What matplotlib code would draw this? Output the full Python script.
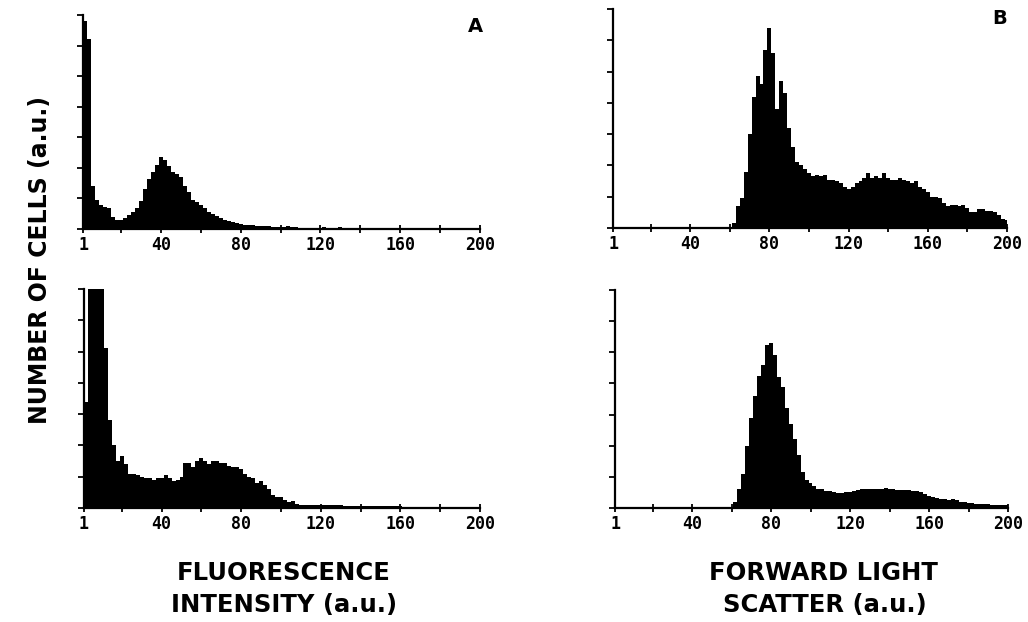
import matplotlib.pyplot as plt
import numpy as np

# histogram bins: 2 channels wide, channel 1 .. 201
edges = np.arange(1, 203, 2)

# fluorescence, upper panel (A)
fl_top = [6.8, 6.2, 1.4, 0.95, 0.8, 0.72, 0.68, 0.4, 0.3, 0.3,
          0.35, 0.45, 0.55, 0.68, 0.9, 1.3, 1.65, 1.85, 2.1, 2.35,
          2.25, 2.05, 1.85, 1.8, 1.7, 1.4, 1.2, 0.95, 0.88, 0.8,
          0.68, 0.57, 0.5, 0.42, 0.36, 0.3, 0.25, 0.22, 0.2, 0.17,
          0.14, 0.12, 0.12, 0.11, 0.1, 0.1, 0.09, 0.08, 0.07, 0.06,
          0.08, 0.1, 0.08, 0.06, 0.04, 0.04, 0.04, 0.04, 0.04, 0.04,
          0.07, 0.04, 0.03, 0.03, 0.05, 0.03, 0.025, 0.025, 0.02, 0.02,
          0.02, 0.02, 0.02, 0.02, 0.02, 0.02, 0.02, 0.02, 0.02, 0.02,
          0.02, 0.02, 0.02, 0.02, 0.02, 0.02, 0.02, 0.02, 0.02, 0.02,
          0.02, 0.02, 0.02, 0.02, 0.02, 0.02, 0.02, 0.02, 0.02, 0.02]

# fluorescence, lower panel
fl_bot = [3.4, 7.0, 7.0, 7.0, 7.0, 5.1, 2.8, 2.0, 1.5, 1.65,
          1.4, 1.1, 1.1, 1.05, 1.0, 0.95, 0.95, 0.9, 0.95, 0.95,
          1.05, 0.95, 0.85, 0.9, 1.0, 1.45, 1.45, 1.3, 1.5, 1.6,
          1.5, 1.4, 1.5, 1.5, 1.45, 1.45, 1.35, 1.3, 1.3, 1.25,
          1.1, 1.0, 0.95, 0.8, 0.85, 0.75, 0.6, 0.42, 0.35, 0.35,
          0.25, 0.2, 0.22, 0.12, 0.1, 0.1, 0.1, 0.1, 0.1, 0.1,
          0.08, 0.08, 0.08, 0.08, 0.08, 0.06, 0.06, 0.06, 0.06, 0.06,
          0.05, 0.05, 0.05, 0.05, 0.05, 0.05, 0.05, 0.05, 0.05, 0.05,
          0.02, 0.02, 0.02, 0.02, 0.02, 0.015, 0.015, 0.015, 0.015, 0.015,
          0.015, 0.015, 0.015, 0.015, 0.015, 0.015, 0.015, 0.015, 0.015, 0.015]

# forward light scatter, upper panel (B)
fs_top = [0.0] * 30 + [
          0.15, 0.7, 0.95, 1.8, 3.0, 4.2, 4.85, 4.6, 5.7, 6.4,
          5.6, 3.8, 4.7, 4.3, 3.2, 2.6, 2.1, 2.0, 1.9, 1.75,
          1.65, 1.7, 1.65, 1.7, 1.55, 1.55, 1.5, 1.45, 1.3, 1.25,
          1.3, 1.45, 1.5, 1.6, 1.75, 1.6, 1.65, 1.6, 1.75, 1.6,
          1.55, 1.55, 1.6, 1.55, 1.5, 1.45, 1.5, 1.3, 1.25, 1.15,
          1.0, 1.0, 0.95, 0.8, 0.7, 0.75, 0.75, 0.7, 0.72, 0.65,
          0.5, 0.52, 0.6, 0.62, 0.55, 0.55, 0.5, 0.4, 0.3, 0.25]

# forward light scatter, lower panel
fs_bot = [0.0] * 29 + [0.02,
          0.2, 0.6, 1.1, 2.0, 2.9, 3.6, 4.25, 4.6, 5.25, 5.3,
          4.9, 4.2, 3.9, 3.2, 2.7, 2.2, 1.7, 1.15, 0.9, 0.8,
          0.7, 0.6, 0.6, 0.55, 0.55, 0.5, 0.48, 0.48, 0.5, 0.52,
          0.55, 0.58, 0.6, 0.62, 0.62, 0.62, 0.6, 0.6, 0.65, 0.62,
          0.6, 0.58, 0.58, 0.57, 0.57, 0.55, 0.55, 0.5, 0.45, 0.4,
          0.36, 0.32, 0.3, 0.28, 0.27, 0.28, 0.25, 0.2, 0.18, 0.17,
          0.15, 0.13, 0.12, 0.12, 0.12, 0.1, 0.1, 0.1, 0.1, 0.1]

xticks = [1, 20, 40, 60, 80, 100, 120, 140, 160, 180, 200]
xticklabels = ['1', '', '40', '', '80', '', '120', '', '160', '', '200']

W, H = 1028, 622
fig = plt.figure(figsize=(W / 100, H / 100), dpi=100)

# axes boxes in pixels: left, top, right, bottom
boxes = [(83, 15, 480, 229), (613, 9, 1007, 228),
         (84, 289, 480, 508), (615, 290, 1008, 508)]
data = [fl_top, fs_top, fl_bot, fs_bot]

for (l, t, r, b), counts in zip(boxes, data):
    ax = fig.add_axes([l / W, 1 - b / H, (r - l) / W, (b - t) / H])
    ax.stairs(counts, edges, fill=True, color='black', baseline=0)
    ax.set_xlim(1, 200)
    ax.set_ylim(0, 7)
    ax.set_yticks(range(8))
    ax.set_yticklabels([])
    ax.set_xticks(xticks)
    ax.set_xticklabels(xticklabels, family='DejaVu Sans Mono',
                       fontweight='bold', fontsize=12)
    for s in ['top', 'right']:
        ax.spines[s].set_visible(False)
    for s in ['left', 'bottom']:
        ax.spines[s].set_linewidth(1.6)
    ax.tick_params(axis='y', direction='out', length=4, width=1.3)
    ax.tick_params(axis='x', direction='inout', length=6, width=1.3, pad=2)

bold = dict(fontweight='bold', family='DejaVu Sans', color='black')
fig.text(475 / W, 1 - 26 / H, 'A', ha='center', va='center', fontsize=14, **bold)
fig.text(1000 / W, 1 - 19 / H, 'B', ha='center', va='center', fontsize=14, **bold)

fig.text(40 / W, 1 - 260 / H, 'NUMBER OF CELLS (a.u.)', rotation=90,
         ha='center', va='center', fontsize=17, **bold)

fig.text(284 / W, 1 - 580 / H, 'FLUORESCENCE', ha='center', va='baseline',
         fontsize=17.5, **bold)
fig.text(284 / W, 1 - 612 / H, 'INTENSITY (a.u.)', ha='center', va='baseline',
         fontsize=17.5, **bold)
fig.text(823 / W, 1 - 580 / H, 'FORWARD LIGHT', ha='center', va='baseline',
         fontsize=17.5, **bold)
fig.text(825 / W, 1 - 612 / H, 'SCATTER (a.u.)', ha='center', va='baseline',
         fontsize=17.5, **bold)

fig.savefig('out.png', dpi=100)
